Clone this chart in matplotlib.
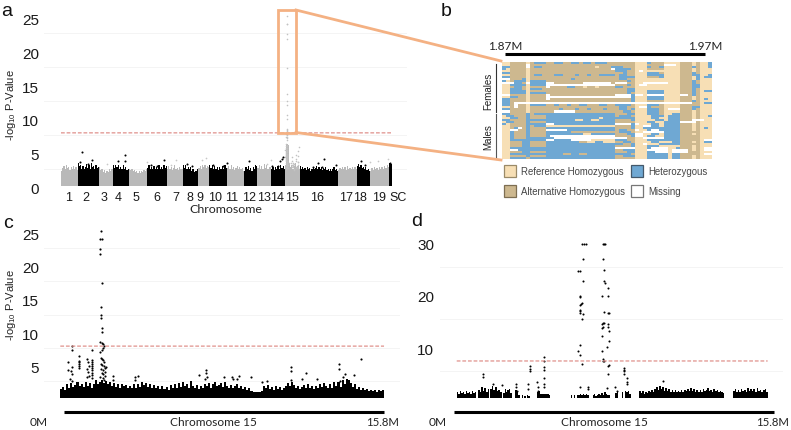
import numpy as np
import matplotlib
matplotlib.use('Agg')
import matplotlib.pyplot as plt
from matplotlib.colors import to_rgb
from matplotlib.lines import Line2D
from matplotlib.patches import Rectangle
from matplotlib.transforms import ScaledTranslation

plt.rcParams['font.family'] = ['Liberation Sans', 'DejaVu Sans']
plt.rcParams['mathtext.fontset'] = 'custom'
plt.rcParams['mathtext.rm'] = 'Liberation Sans'
plt.rcParams['mathtext.default'] = 'regular'

# panel a: genome wide, relative chromosome lengths and the top of the dense band
chrom_names = ['1', '2', '3', '4', '5', '6', '7', '8', '9', '10', '11', '12', '13', '14', '15', '16', '17', '18', '19', 'SC']
chrom_len = [16.7, 21.3, 13.7, 16.3, 18, 20, 15.7, 15.7, 10.7, 17.7, 17.3, 13.3, 13.7, 14, 14.7, 38.3, 18.7, 13.3, 19, 2.7]
chrom_label_pos = [7.3, 25, 43.3, 56.7, 75, 96.3, 114.7, 128.7, 139.3, 154, 170.7, 188, 202.5, 216.5, 231.3, 256.3, 285, 299, 318, 336.7]
chrom_tops = [
    [2.2, 2.6, 2.9, 2.4, 3.1, 2.6, 2.8, 2.3, 2.7, 2.4, 2.9, 2.5, 2.7, 2.3],
    [3.3, 2.9, 3.1, 2.5, 2.9, 2.4, 2.8, 3.2, 2.6, 3.0, 2.5, 3.4, 2.7, 2.9, 2.4, 3.0, 2.6, 2.8],
    [2.7, 2.3, 2.5, 2.0, 2.3, 1.9, 2.2, 2.0, 2.4, 2.1, 2.5],
    [3.0, 2.6, 3.1, 2.7, 3.0, 2.5, 2.8, 2.4, 3.0, 2.5, 2.7, 2.3, 2.4],
    [2.5, 2.3, 2.4, 2.1, 2.3, 2.0, 2.2, 1.9, 2.1, 1.9, 2.2, 2.0, 2.3, 2.2, 2.5],
    [2.6, 3.0, 2.5, 2.8, 2.4, 2.9, 2.5, 2.7, 2.4, 3.0, 2.5, 2.8, 2.4, 3.1, 2.6, 2.9],
    [2.5, 2.9, 2.4, 2.7, 2.3, 2.6, 3.0, 2.4, 2.6, 2.3, 2.8, 2.4, 2.5],
    [3.0, 2.6, 3.0, 2.5, 2.8, 2.4, 2.7, 2.2, 2.4, 2.0, 2.2, 2.1, 2.4],
    [2.6, 2.9, 2.5, 3.0, 2.7, 3.1, 2.6, 2.9, 2.7],
    [3.0, 2.6, 3.1, 2.5, 2.9, 2.4, 2.7, 2.3, 2.8, 2.4, 2.9, 2.5, 3.0, 2.6],
    [2.6, 2.9, 2.5, 3.0, 2.4, 2.7, 2.3, 2.6, 2.9, 2.4, 2.8, 2.5, 2.6, 2.2],
    [2.2, 2.7, 2.4, 2.9, 2.3, 2.6, 2.2, 2.8, 2.5, 3.0, 2.9],
    [2.6, 3.0, 2.4, 2.9, 2.5, 3.2, 2.6, 3.0, 2.5, 2.8, 2.7],
    [2.4, 2.8, 2.3, 2.7, 2.4, 2.9, 2.5, 3.0, 2.6, 2.9, 2.5],
    [3.0, 6.2, 6.0, 3.2, 2.7, 3.1, 2.5, 2.9, 3.4, 2.6, 2.9, 2.5],
    [2.9, 2.5, 2.8, 2.4, 2.6, 2.3, 2.7, 2.4, 2.6, 2.2, 2.5, 2.8, 2.4, 2.6, 2.9, 2.5, 2.8, 2.4, 2.7, 2.3,
     2.6, 2.4, 2.8, 2.3, 2.5, 2.2, 2.4, 2.1, 2.5, 2.7, 2.3, 2.5, 2.1],
    [2.3, 2.6, 2.4, 2.8, 2.5, 2.7, 2.3, 2.9, 2.5, 2.6, 2.4, 2.8, 2.5, 2.7, 2.4],
    [2.9, 3.2, 2.7, 3.0, 2.6, 2.8, 2.4, 2.7, 2.3, 2.5, 2.2],
    [2.2, 2.6, 2.3, 2.7, 2.4, 2.6, 2.3, 2.8, 2.4, 2.7, 2.5, 2.9, 2.6, 3.1, 2.7],
    [3.4, 3.2],
]
a_black_x = [21.3, 64, 64, 57.3, 30.7, 19, 27.3, 103, 89.7, 95.7, 125.7, 130.7, 152.3, 162.3, 165.7, 187.7, 221.7, 220.7, 219, 217.3, 210.7, 263.3, 256.7, 260.7, 252.3, 275, 299.7, 304, 329]
a_black_v = [5.0, 4.5, 3.7, 3.6, 3.8, 3.45, 3.2, 3.8, 3.1, 2.85, 3.2, 2.95, 3.1, 2.95, 3.35, 3.7, 4.3, 3.95, 3.6, 2.95, 2.95, 3.95, 3.3, 2.7, 2.7, 3.1, 3.7, 3.1, 3.3]
a_gray_x = [45.7, 86.3, 115, 140.7, 145, 110, 210, 309, 317.3, 327.3, 205.7]
a_gray_v = [3.2, 3.45, 3.85, 3.85, 4.05, 3.1, 3.85, 3.45, 3.6, 3.95, 3.2]

# panel c: chromosome 15, male + female scan
c_top = [1.3, 1.6, 1.2, 2.0, 1.5, 2.2, 1.6, 1.9, 2.3, 1.7, 2.1, 1.6, 2.4, 1.8, 2.2, 1.5, 2.0, 2.6, 2.0, 2.3,
         2.7, 2.2, 2.5, 2.0, 2.3, 1.7, 2.2, 1.6, 2.0, 1.5, 2.1, 1.7, 1.9, 1.5, 1.8, 1.4, 2.0, 1.5, 2.1, 1.6,
         2.3, 1.9, 2.2, 1.6, 2.0, 1.5, 1.9, 1.4, 1.8, 1.3, 1.7, 1.3, 1.6, 1.2, 1.9, 1.4, 2.0, 1.5, 2.2, 1.6,
         2.4, 1.7, 2.1, 1.5, 2.5, 1.8, 1.4, 1.9, 1.3, 1.8, 1.5, 2.1, 1.7, 2.2, 1.5, 2.0, 2.4, 1.7, 1.9, 2.2,
         1.6, 2.3, 1.8, 1.5, 1.9, 1.4, 1.8, 2.0, 1.5, 1.7, 1.3, 1.6, 1.2, 1.5, 1.0, 0.9, 0.8, 0.9, 0.8, 1.0,
         1.8, 1.4, 1.9, 1.3, 1.6, 1.2, 1.7, 1.3, 1.6, 1.2, 1.5, 1.8, 2.2, 1.7, 2.4, 1.9, 1.4, 1.7, 1.3, 1.6,
         1.9, 1.5, 2.0, 1.4, 1.8, 1.3, 1.7, 1.5, 2.0, 1.6, 2.2, 1.7, 1.4, 2.0, 1.5, 2.4, 1.8, 2.3, 1.6, 2.6,
         2.0, 2.8, 2.7, 2.2, 1.6, 2.0, 1.3, 1.6, 1.2, 1.5, 1.1, 1.3, 1.0, 1.2, 1.0, 1.1, 0.9, 1.1, 1.0, 1.1]
c_x = [1.99, 1.94, 2.05, 1.95, 1.94, 2.03, 2.0, 1.99, 1.99, 2.03, 2.03, 1.95, 2.02, 2.08, 2.15, 2.10, 2.05, 1.95, 1.55, 0.55, 0.55,
       0.39, 0.59, 0.39, 0.52, 0.59, 0.46, 0.59, 0.93, 0.93, 0.93, 0.93, 0.93, 0.93, 1.29, 1.37, 1.42, 1.32, 1.37, 1.42, 1.29,
       1.55, 1.55, 1.55, 1.55, 1.55, 1.55, 1.55, 1.55, 1.55, 2.0, 2.05, 2.1, 2.15, 1.98, 2.04, 2.12, 2.2, 2.0, 2.08, 2.18, 2.25, 2.02, 2.1, 2.2, 1.96, 2.06, 2.14,
       2.56, 2.56, 3.65, 3.81, 3.65,
       7.13, 7.13, 7.14, 6.78, 7.06, 8.0, 8.36, 8.44, 8.72, 8.6, 9.29, 9.83, 10.1, 11.26, 11.26, 11.26, 11.97, 11.81, 12.51, 13.6, 13.6, 14.67, 13.89, 13.81, 13.65, 14.33]
c_v = [25.1, 23.9, 23.9, 22.4, 21.6, 17.3, 13.6, 12.5, 11.9, 10.5, 9.9, 8.4, 8.2, 8.0, 7.7, 7.5, 7.2, 6.8, 7.1, 7.7, 7.2,
       5.3, 4.6, 4.2, 4.0, 3.6, 2.8, 2.5, 6.2, 5.5, 5.3, 5.0, 4.7, 4.4, 5.8, 5.3, 4.8, 4.3, 3.8, 3.3, 3.1,
       5.6, 5.3, 5.0, 4.7, 4.4, 4.1, 3.7, 3.4, 3.0, 6.0, 5.8, 5.6, 5.3, 5.1, 4.9, 4.7, 4.5, 4.3, 4.1, 3.9, 4.6, 3.7, 3.5, 3.3, 3.1, 2.9, 2.7,
       3.2, 2.6, 3.05, 3.3, 2.6,
       4.2, 3.7, 3.05, 3.4, 2.8, 3.05, 3.05, 2.85, 3.3, 2.8, 3.15, 2.3, 2.45, 4.55, 3.95, 2.65, 3.65, 2.8, 2.8, 5.05, 4.35, 5.75, 3.55, 3.05, 2.55, 3.45]

# panel d: chromosome 15, second scan. the band has gaps, so it is kept as clusters
d_start = [0.0, 1.08, 1.7, 2.36, 2.97, 3.3, 4.06, 5.8, 6.9, 8.05, 8.4, 9.26, 14.04]
d_end = [1.0, 1.65, 2.28, 2.8, 3.2, 3.7, 4.74, 6.7, 7.8, 8.2, 8.84, 13.6, 15.8]
d_tops = [
    [1.0, 0.8, 1.2, 0.9, 1.1, 0.8, 1.3, 0.9, 1.1, 0.8, 1.2, 0.9, 1.0],
    [1.4, 1.0, 2.0, 1.3, 1.8, 1.1, 1.6],
    [1.6, 2.2, 1.4, 2.0, 1.3, 1.5, 1.1],
    [0.9, 1.6, 1.0, 1.4, 1.7, 0.9],
    [1.5, 1.0, 0.6],
    [0.5, 0.0, 0.4, 0.0, 0.5, 0.3],
    [1.0, 1.3, 0.8, 0.7, 0.8, 0.7, 0.8, 0.7, 0.6],
    [0.5, 0.0, 0.5, 0.0, 0.6, 0.5, 0.7, 0.6, 0.7, 0.5, 0.8, 0.5],
    [0.5, 0.7, 0.4, 0.6, 0.8, 0.5, 0.9, 0.6, 1.1, 0.7, 0.6, 0.5],
    [0.9, 1.2],
    [1.0, 0.0, 1.2, 1.0, 1.3, 0.8],
    [1.3, 0.9, 1.2, 0.8, 1.1, 0.9, 1.3, 1.0, 1.5, 1.1, 1.7, 2.0, 1.4, 2.2, 1.6, 2.0, 1.3, 1.9, 1.2, 1.6,
     1.1, 1.4, 1.0, 1.5, 1.1, 1.3, 1.0, 1.4, 1.1, 1.5, 1.2, 1.7, 1.2, 1.9, 1.3, 1.6, 1.1, 1.4, 1.0, 1.5,
     1.1, 1.6, 1.2, 1.4, 1.8, 1.2, 1.5, 1.1, 1.7, 1.2, 1.4, 1.0, 1.3, 1.0, 0.9],
    [1.3, 1.7, 1.1, 1.4, 1.0, 1.6, 1.2, 1.5, 1.1, 1.9, 1.3, 1.7, 1.2, 1.6, 1.1, 1.8, 1.3, 1.5, 1.1, 1.4, 1.7, 1.1],
]
d_x = [6.37, 6.47, 6.59, 7.42, 7.47, 7.52, 6.43, 7.42, 6.16, 6.28, 7.5, 6.4, 7.5, 7.52, 7.7, 6.28, 6.28, 7.4, 7.67, 6.38, 6.3, 6.27, 6.27, 6.27,
       6.28, 6.43, 6.38, 7.5, 7.67, 7.72, 7.45, 7.4, 7.5, 7.37, 7.43, 7.69, 7.69, 7.74, 7.4, 7.72, 7.62, 6.25, 6.16, 7.4, 6.28, 6.38,
       7.42, 7.45, 7.48, 7.76, 7.7, 7.67, 8.5, 8.5, 8.5, 8.5, 8.67, 8.67, 8.67, 6.28, 6.67, 6.67, 7.62, 8.04, 8.13, 10.46,
       4.45, 4.45, 4.45, 4.45, 4.45, 4.45, 4.45, 3.72, 3.72, 3.72, 1.35, 1.35, 4.1, 3.64, 4.15, 4.15, 3.0, 3.0, 3.05, 2.28, 1.86, 3.6]
d_v = [29.2, 29.2, 29.2, 29.2, 29.2, 29.2, 26.5, 26.5, 24.1, 24.1, 24.3, 22.3, 22.3, 21.8, 20.9, 19.4, 19.1, 19.4, 19.4, 18.1, 17.9, 17.7, 16.8, 16.5,
       16.1, 15.9, 15.0, 16.3, 16.1, 16.2, 14.3, 14.0, 14.2, 13.2, 13.4, 14.0, 13.4, 12.8, 11.8, 10.9, 9.7, 10.1, 8.9, 8.9, 8.1, 6.5,
       7.4, 7.05, 6.9, 6.2, 6.0, 4.5, 5.6, 5.3, 5.0, 4.6, 3.7, 3.05, 2.6, 2.1, 2.0, 1.6, 1.9, 2.1, 1.3, 3.2,
       7.8, 6.9, 5.9, 5.3, 3.75, 2.7, 2.0, 6.0, 5.5, 5.1, 4.5, 3.9, 2.9, 2.6, 2.0, 1.3, 2.6, 2.0, 1.2, 2.5, 2.7, 1.65]

# panel b: genotype per sample (row) and site (column), r/a/h/m
geno_rows = [
    'rr aaaa r ahhh aahhaahhahhahhhaa aaaaa rrr haaa rrrr aaa r a r rh',
    'rr aaaa m aaaa aaaaaaaaaaaaaaaaa aaaaa rrr aaaa mmmr aaa r a r rh',
    'hh aaaa m ahha aaaaaaaaaaaaraaah hhaaa rrr haah rrrr aaa h a r rh',
    'hr aaaa r aaaa aaaaaaaaaaaaaaaam hhhha rrr aaaa rrrr aaa r a r rr',
    'rr aaaa r aaaa aaaaaaaaaaaaaaaaa hhhaa rmr rrrr rrrr aaa r a r rr',
    'hh aaaa r aaaa aaaaaaaaaaaaaaaaa aahaa rrr hhha rrrr aaa h a r rr',
    'rr aaaa r ahha aahhaaahaahaahhhh ahhaa rrr hhhh rrrr aaa h h r rh',
    'hh aaaa r aaaa aaaaaaaaaaaaaaaaa ahhhh rrr aaah rrrr aaa r h r hh',
    'mm aaah r aaaa aaaaaahaaaaaaaaaa ahhaa rrr rrrr rrrr aaa r h r rr',
    'hr ahhh r hhhh aaaaaaaaaaaaaaaaa aaaha rrr rrrr rrrr aaa h a r rr',
    'mm mhha m hhhh mmaaaaaaammmmmmma mmmaa rrm mmmm mrrr aaa h a r rr',
    'rr hhhh r hhhh mmmmmmmmmmmmmmmmm aaaha rmm rrrr rrrr aaa h h r rr',
    'rr ahha r aaaa maaaahhaaraaraaaa hhaaa rrr rrrr rrrr aaa h h r rr',
    'rr hhha r hhha aaaaaaaaaaaaaaaaa aaahh rrr rrrr rrrr aaa h a r rr',
    'rr hhhh r aaaa aaaaaaaaaaaaaaaaa aaahh rrr hhhh rrrr aaa h a r hh',
    'rr hhhh r hhhh aaaaaaaaaaaaaaaaa aaaha rrr hhhh rrrr aaa h a r rr',
    'mm aaaa r aaaa maaaaaaaaaaaaaaaa mmmmh mmr mmmm rrrr mma h a r rr',
    'rr hhaa r aaaa mmmmmmmmmmmmmmmmm mmmmh rrr hhhh rrrr aaa r a r rr',
    'hh aaaa r aaaa maaaaaaaaaaaaaaaa aaaah rrr hhhh rrrr aaa r a r hr',
    'hh aaaa r aaaa aaaaaaaaaaaaaaaaa aaaah rrr aaaa rrrr aaa h a r rr',
    'hh ammm m mmmm mmmmmmmmmmmmmmmmm mmmmm mmm mmmm mmmm mmm a a r hh',
    'hh amaa r hhhh aahaahaahhaaahhaa hhhha rrr hhha rrrr aaa a a r rr',
    'rr amaa r aaaa aaaaaaaaaaaaaaaaa ahhaa rmm haaa rrrr aaa h h r rr',
    'hh aaaa r aaaa aaahaaahaahaaahaa ahhah rrr hhha rmmm aaa h a r rr',
    'mm aaaa r aaaa aammmmmaaaaaaaaaa aahha rrr hhha rrrr aaa r a r rr',
    'hh aaaa h ahhh hhhhhhhhhhhhhhhhh aaahh rrr hhha rrhh aaa r a r rr',
    'rh haaa h aaaa hhhhhhhhhhhhhhhhh ahhha rrr rhhh rhhh aaa r a r rh',
    'rr hhaa h aaaa hhhhhhhhhhhhhrhhh hhhhh rrr rhhr rhhh aaa r a r rr',
    'hh aaaa h hhhh hhhhhhhrrhhrrhhhh aaaah rrr rrhh rhhh aaa m m m rr',
    'rh haaa h aaaa hhhhhhhhhhhhhhhhh aaaaa rrr hhrr hhhh mmm m a r rr',
    'hr aaaa h hhhh mmhhhhhhhhhhhhhhh mmmmh mrr rhhr hhhh aaa r a r rr',
    'rr aaaa h ahhh rrrrrrrrrrrrrrrrr aaaah rrm mhhr hhhh aaa r a r rr',
    'rr ahma h aaaa hhhhhhhhhhhhhhhhh aaaah rrh hhhh hhhh aaa r a r hr',
    'rr mmaa h aaaa mmmmmhhhhhhhhhhhh ahhaa mrr hmmh hhhh aaa r a r rr',
    'rr haaa h aaaa hhhhhhaaaaaaaaaaa ahhha rrm mmmm hhhh aaa a a r rr',
    'rr haaa h aaaa hhhhhhhhhrrhhhhhh aaahh mmr rhhr hhhh aaa r a r rr',
    'rr haaa h aaaa hmmmmmmmmmmmmmmmm aaaah mmr hhrr hhhh aaa a a r rr',
    'rr haaa h hhhh hhmmmmmmmmmmmmmmm mmmaa rrm mmmm hhhh aaa a a r rr',
    'rr hhhh h hhhh mmhhhhmmmmmrrrrrr hhhaa rrr hhhh hhhh aaa a a r mm',
    'rr aaah h aaaa hhhhhhhhaarrhhrrr aahha rrr rhhr rrhh aaa r a r hh',
    'rr aaah h aaaa hhhhhhhhhhhhhhhhh hhaah rrm rrrh hhhh aaa a a r rr',
    'rr aaah h aaaa hhhhhhhhhhhhhhhhh aaaah rrr hhhr rrrr aaa r a r rr',
    'rr hhhh h hhhh hhhhhhhhhhhhhhhhh mmmmm rrr hmmm mrrh aaa r a r mm',
    'rr mmhh h hhhh hhhhhhhhhhhhhhhhh aahhh rrr mmmm mrmm mma r a r mm',
    'rr aaah h aaaa hhhhhhhhhhhhhhhhh aaahh rrr hhmm mrmm mma a a r rr',
    'rr hhhh h hhhh hhhhaahhaahhhhhhh hhhha rrr hhhh hrhh aaa a a r mm',
    'rr aaaa h aaaa hhhhhhhhhhhhhhhhh aahhh rrr hhhh hrhh aaa r a r rr',
    'rr hhhh a hhhh hhhhhhhhhhhhhhhhh aaaaa rrr hhhh hrhh aaa r a r rr',
]
geno_colors = {'r': '#f7dfb5', 'a': '#cdb88f', 'm': '#ffffff', 'h': '#6fa8d3'}

threshold_a = 7.8
threshold_c = 7.75
threshold_d = 7.0

W, H = 791.0, 431.0
GRID = '#f4f4f4'
DASH = '#e0918c'
ORANGE = '#f4b183'
SANS = ['Lato', 'DejaVu Sans']

fig = plt.figure(figsize=(7.91, 4.31), dpi=100)


def panel(left, right, top, bottom):
    # axes from pixel edges of the reference
    ax = fig.add_axes([left / W, 1 - bottom / H, (right - left) / W, (bottom - top) / H])
    for s in ax.spines.values():
        s.set_visible(False)
    ax.tick_params(length=0)
    return ax


def fig_text(px, py, s, **kw):
    return fig.text(px / W, 1 - py / H, s, **kw)


def fig_line(xs, ys, **kw):
    fig.add_artist(Line2D([x / W for x in xs], [1 - y / H for y in ys], transform=fig.transFigure, **kw))


def y_axis(ax, ymax, ticks, step, size, drop, pad):
    ax.set_ylim(0, ymax)
    ax.set_yticks(np.arange(0, ymax + step / 2, step), minor=True)
    ax.grid(True, which='minor', axis='y', color=GRID, linewidth=0.7)
    ax.tick_params(which='minor', length=0)
    ax.set_axisbelow(True)
    ax.set_yticks(ticks)
    ax.tick_params(axis='y', labelsize=size, pad=pad, labelcolor='#1a1a1a')
    for lab in ax.get_yticklabels():
        lab.set_transform(lab.get_transform() + ScaledTranslation(0, -drop / 100, fig.dpi_scale_trans))


def skyline(ax, x0, x1, tops, color):
    edges = np.linspace(x0, x1, len(tops) + 1)
    ax.fill_between(edges, list(tops) + [tops[-1]], 0, step='post', color=color, linewidth=0)


# panel a
ax_a = panel(44, 407, 17.3, 186.7)
ax_a.set_xlim(-17, 346)
y_axis(ax_a, 25, [0, 5, 10, 15, 20, 25], 2.5, 11, 2, 3.6)
pos = 0
for i, n in enumerate(chrom_len):
    skyline(ax_a, pos, pos + n, chrom_tops[i], '#b9b9b9' if i % 2 == 0 else 'black')
    pos += n
chr15_start = sum(chrom_len[:14])
ax_a.scatter(chr15_start + np.array(c_x) * chrom_len[14] / 15.8, c_v, s=1.3, color='#c2c2c2', linewidths=0, clip_on=False)
ax_a.scatter(a_gray_x, a_gray_v, s=1.5, color='#c8c8c8', linewidths=0)
ax_a.scatter(a_black_x, a_black_v, s=2.2, color='black', linewidths=0)
ax_a.plot([0, pos], [threshold_a, threshold_a], color=DASH, linewidth=0.9, linestyle=(0, (3, 1.5)), snap=False)
ax_a.set_xticks(chrom_label_pos)
ax_a.set_xticklabels(chrom_names, fontsize=9, color='#1a1a1a')
ax_a.tick_params(axis='x', pad=3.5)

# panel c
ax_c = panel(44, 400, 232.3, 398.7)
ax_c.set_xlim(-0.796, 16.58)
y_axis(ax_c, 25, [5, 10, 15, 20, 25], 2.5, 11, 2, 3.6)
skyline(ax_c, 0, 15.8, c_top, 'black')
ax_c.scatter(c_x, c_v, s=2.4, color='black', linewidths=0, clip_on=False)
ax_c.plot([0, 15.8], [threshold_c, threshold_c], color=DASH, linewidth=0.9, linestyle=(0, (3, 1.5)), snap=False)
ax_c.set_xticks([])

# panel d
ax_d = panel(440, 783, 241.3, 398.7)
ax_d.set_xlim(-0.85, 16.58)
y_axis(ax_d, 30, [10, 20, 30], 5, 11, 3, 4.3)
for i in range(len(d_start)):
    skyline(ax_d, d_start[i], d_end[i], d_tops[i], 'black')
ax_d.scatter(d_x, d_v, s=2.2, color='black', linewidths=0, clip_on=False)
ax_d.plot([0, 15.8], [threshold_d, threshold_d], color=DASH, linewidth=0.9, linestyle=(0, (3, 1.5)), snap=False)
ax_d.set_xticks([])

# y titles and panel letters
for py in (105, 305):
    fig_text(11, py, r'-log$_{10}$ P-Value', rotation=90, ha='center', va='center', fontsize=8, color='#222222')
for px, py, s in [(1, 11, 'a'), (441, 11, 'b'), (3, 224, 'c'), (411, 222, 'd')]:
    fig_text(px, py, s, ha='left', va='center', fontsize=14, color='#111111')
fig_text(226, 210, 'Chromosome', ha='center', va='center', fontsize=8.9, family=SANS, color='#222222')

# position bars under c and d
fig_line([64, 384], [413, 413], color='black', linewidth=2.2, solid_capstyle='butt')
fig_line([454, 774], [413, 413], color='black', linewidth=2.2, solid_capstyle='butt')
for px, s, size in [(39, '0M', 8.6), (213, 'Chromosome 15', 8.6), (383, '15.8M', 8.2), (438, '0M', 8.6), (604, 'Chromosome 15', 8.6), (773, '15.8M', 8.2)]:
    fig_text(px, 423, s, ha='center', va='center', fontsize=size, family=SANS, color='#222222')

# panel b
ax_b = panel(502, 712, 63.3, 160)
geno = np.array([[to_rgb(geno_colors[c]) for c in r.replace(' ', '').ljust(52, 'r')[:52]] for r in geno_rows])
ax_b.imshow(geno, aspect='auto', interpolation='nearest')
ax_b.set_xticks([])
ax_b.set_yticks([])

fig_line([505, 705], [55, 55], color='black', linewidth=2.2, solid_capstyle='butt')
fig_text(505, 46, '1.87M', ha='center', va='center', fontsize=8.5, family=SANS, color='#222222')
fig_text(705, 46, '1.97M', ha='center', va='center', fontsize=8.5, family=SANS, color='#222222')
fig_text(488, 91, 'Females', rotation=90, ha='center', va='center', fontsize=7, color='#222222')
fig_text(488, 137, 'Males', rotation=90, ha='center', va='center', fontsize=7, color='#222222')
fig_line([496, 496], [65, 113], color='#333333', linewidth=0.8)
fig_line([496, 496], [115, 160], color='#555555', linewidth=0.8)

legend_items = [(504, 166, '#f7dfb5', '#9a8a68', 'Reference Homozygous'), (631, 166, '#6fa8d3', '#44586a', 'Heterozygous'),
                (504, 186, '#cdb88f', '#7d6e52', 'Alternative Homozygous'), (631, 186, '#ffffff', '#777777', 'Missing')]
for px, py, face, edge, s in legend_items:
    fig.add_artist(Rectangle((px / W, 1 - (py + 12) / H), 12 / W, 12 / H, transform=fig.transFigure, facecolor=face, edgecolor=edge, linewidth=0.9))
    fig_text(px + 17, py + 6, s, ha='left', va='center', fontsize=6.9, color='#444444')

# zoom box on chromosome 15 and the lines over to panel b
fig_line([296, 278, 278, 296, 296], [11, 11, 133.5, 133.5, 11], color=ORANGE, linewidth=2.0, solid_joinstyle='miter')
fig_line([296, 501], [11, 62], color=ORANGE, linewidth=2.0)
fig_line([296, 501], [133.5, 161], color=ORANGE, linewidth=2.0)

fig.savefig('out.png', dpi=100)
